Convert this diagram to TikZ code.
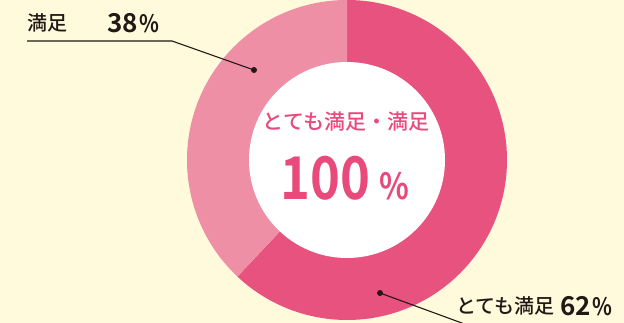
\documentclass[tikz,border=0pt]{standalone}
\usepackage{fontspec}
\setmainfont{Noto Sans CJK JP Medium}[BoldFont={Noto Sans CJK JP Bold}]
\usepackage{tikz}

\definecolor{bgcream}{HTML}{FFFADC}
\definecolor{darkpink}{HTML}{E8527F}
\definecolor{lightpink}{HTML}{EE8FA5}
\definecolor{textpink}{HTML}{E84A7C}
\definecolor{inkblack}{HTML}{231815}

\newcommand{\narrow}[1]{\scalebox{0.86}[1]{#1}}

\tikzset{
    label/.style={inner sep=0pt,text=inkblack,font=\fontsize{20}{20}\selectfont},
    num/.style={inner sep=0pt,text=inkblack,font=\bfseries\fontsize{26}{26}\selectfont},
    lead/.style={draw=inkblack,line width=1.1pt},
}

\begin{document}
\begin{tikzpicture}[x=1pt,y=1pt]
        \useasboundingbox (0,0) rectangle (624,323);
        \fill[bgcream] (0,0) rectangle (624,323);
        \coordinate (c) at (347,163);
        % ring
        \fill[darkpink] (c)--++(90:160pt) arc[start angle=90,end angle=-133.2,radius=160pt]--cycle;
        \fill[lightpink] (c)--++(90:160pt) arc[start angle=90,end angle=226.8,radius=160pt]--cycle;
        \fill[white] (c) circle[radius=98pt];
        % centre texts
        \node[inner sep=0pt,text=textpink,font=\fontsize{21}{21}\selectfont] (title) at (346,201){とても満足・満足};
        \node[inner sep=0pt,text=textpink,font=\bfseries\fontsize{59}{59}\selectfont,anchor=base] (total) at (345,123){\narrow{100}\,{\fontsize{36}{36}\selectfont\narrow{\%}}};
        % satisfied
        \node[label,anchor=base west] (sat) at (27,292){満足};
        \node[num,anchor=base west] (satnum) at (107,290){38\hspace{1.5pt}{\fontsize{24}{24}\selectfont\narrow{\%}}};
        \coordinate (satdot) at (254,253);
        \coordinate (satbend) at (172,282);
        \coordinate (satend) at (27,282);
        \draw[lead] (satend)--(satbend)--(satdot);
        \fill[inkblack] (satdot) circle[radius=3pt];
        % very satisfied
        \node[label,anchor=base west] (vsat) at (456,9){とても満足};
        \node[num,anchor=base west] (vsatnum) at (560,7){62\hspace{1.5pt}{\fontsize{24}{24}\selectfont\narrow{\%}}};
        \coordinate (vsatdot) at (380,30);
        \coordinate (vsatend) at (470,-3);
        \draw[lead] (vsatdot)--(vsatend);
        \fill[inkblack] (vsatdot) circle[radius=3pt];
    \end{tikzpicture}
\end{document}
